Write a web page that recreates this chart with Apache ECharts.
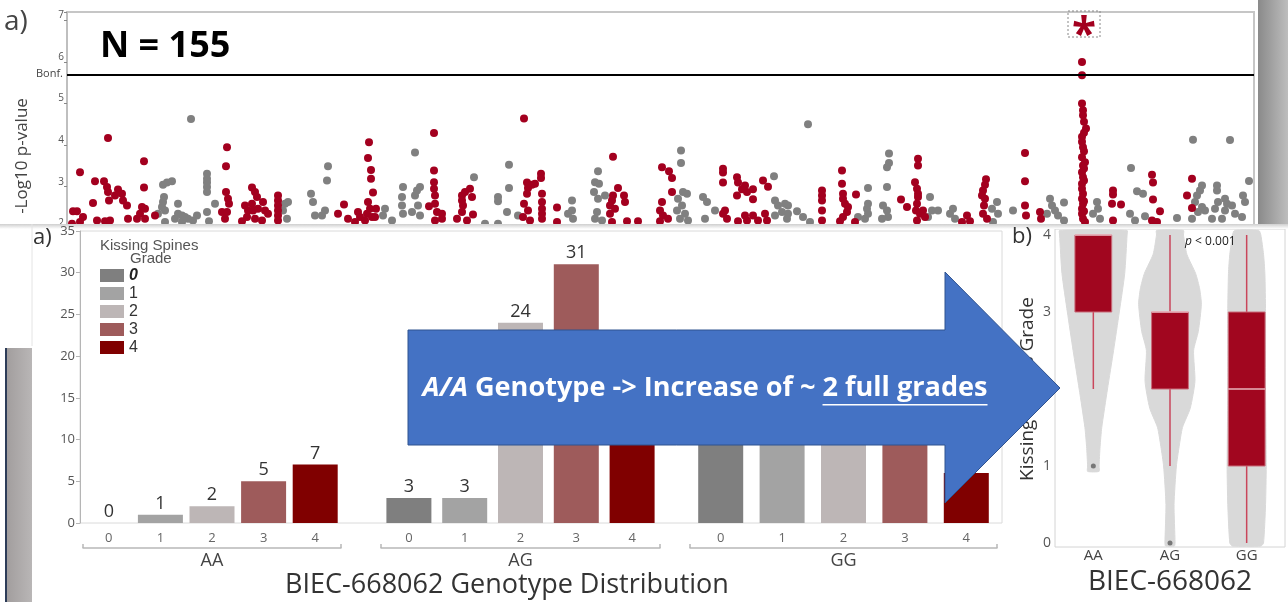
<!DOCTYPE html>
<html>
<head>
<meta charset="utf-8">
<script src="https://cdn.jsdelivr.net/npm/echarts@6/dist/echarts.min.js"></script>
<style>
  html, body { margin: 0; padding: 0; background: #fff; }
  #wrap { position: relative; width: 1288px; height: 602px; overflow: hidden; }
  #clip { position: absolute; left: 0; top: 0; width: 1288px; height: 224px; overflow: hidden; }
  #manhattan { position: absolute; left: 0; top: 0; width: 1288px; height: 330px; }
  #lower { position: absolute; left: 0; top: 224px; width: 1288px; height: 378px; }
</style>
</head>
<body>
<div id="wrap">
  <div id="clip"><div id="manhattan"></div></div>
  <div id="lower"></div>
</div>
<script>
'use strict';

// Manhattan plot: [cumulative position (Mb), -log10 p], alternating chromosome colours
var redSnps = [
  [26,3.35],[82,4.17],[154,3.61],[154,2.98],[56,3.13],[74,3.13],[80,2.99],[82,2.87],[102,2.93],[110,2.83],[96,2.79],[112,2.67],[120,2.55],[84,2.67],[52,2.61],[12,2.41],[20,2.41],[32,2.27],[10,2.11],[26,2.15],[60,2.19],[76,2.17],[86,2.19],[122,2.23],[140,2.23],[150,2.51],[156,2.47],[146,2.35],[156,2.23],[176,2.31],
  [320,3.95],[318,3.49],[318,2.87],[322,2.71],[324,2.59],[310,2.39],[320,2.39],[316,2.23],
  [370,2.98],[376,2.87],[380,2.75],[370,2.59],[356,2.55],[362,2.43],[372,2.43],[382,2.47],[392,2.63],[396,2.43],[402,2.35],[360,2.27],[376,2.23],[390,2.19],[350,2.17],
  [422,2.79],[422,2.67],[422,2.55],[422,2.43],[422,2.31],[422,2.19],
  [604,4.07],[602,3.69],[608,3.40],[608,3.19],[612,2.86],[602,2.63],[606,2.47],[600,2.35],[610,2.27],[618,2.47],[616,2.27],[554,2.57],[542,2.35],[562,2.23],[582,2.39],[586,2.27],[596,2.19],[576,2.15],
  [734,4.29],[734,3.39],[734,3.11],[734,2.95],[736,2.79],[724,2.53],[736,2.59],[740,2.39],[750,2.35],[750,2.23],[736,2.19],
  [790,2.79],[796,2.87],[806,2.95],[810,2.75],[790,2.67],[792,2.55],[790,2.39],[812,2.33],[780,2.23],[800,2.19],
  [914,4.64],[948,3.31],[948,3.21],[920,3.10],[930,3.05],[922,2.97],[936,3.07],[920,2.83],[950,2.83],[950,2.63],[914,2.59],[950,2.47],[922,2.43],[950,2.35],[912,2.27],[950,2.23],[926,2.19],
  [980,2.50],[980,2.15],
  [1092,3.72],[1102,2.97],[1092,2.79],[1090,2.67],[1086,2.55],[1096,2.47],[1114,2.79],[1116,2.63],[1086,2.35],[1090,2.15],[1120,2.17],[1142,2.17],
  [1190,3.47],[1204,3.37],[1210,3.21],[1210,2.87],[1190,2.63],[1186,2.43],[1192,2.31],[1202,2.23],[1186,2.17],
  [1312,3.43],[1312,3.34],[1312,3.10],[1340,3.23],[1342,3.10],[1350,2.94],[1356,3.03],[1360,2.87],[1340,2.79],[1372,2.94],[1372,2.70],[1392,3.15],[1402,3.00],[1316,2.43],[1312,2.35],[1320,2.23],[1342,2.17],[1356,2.31],[1360,2.19],[1372,2.31],[1382,2.19],[1396,2.35],[1400,2.19],
  [1510,2.91],[1510,2.79],[1510,2.67],[1510,2.43],[1510,2.19],
  [1550,3.39],[1550,3.07],[1552,2.83],[1552,2.71],[1556,2.59],[1562,2.51],[1560,2.39],[1552,2.27],[1546,2.17],[1578,2.81],[1576,2.15],
  [1702,3.67],[1702,3.51],[1696,3.11],[1700,2.95],[1702,2.83],[1702,2.75],[1700,2.59],[1698,2.43],[1706,2.35],[1712,2.43],[1716,2.27],[1700,2.19],[1668,2.69],[1680,2.51],
  [1800,2.31],[1790,2.15],[1806,2.17],
  [1838,3.18],[1836,3.05],[1832,2.91],[1830,2.79],[1836,2.71],[1834,2.55],[1832,2.35],[1840,2.23],
  [1916,3.81],[1916,3.13],[1916,2.55],[1918,2.31],[1946,2.39],[1948,2.23],
  [2030,6.00],[2030,5.68],[2030,5.00],[2032,4.84],[2032,4.72],[2034,4.56],[2038,4.40],[2034,4.30],[2030,4.20],[2030,4.08],[2032,3.95],[2034,3.85],[2030,3.71],[2036,3.59],[2032,3.51],[2034,3.44],[2030,3.35],[2032,3.23],[2034,3.15],[2030,3.07],[2030,2.95],[2032,2.83],[2030,2.71],[2034,2.65],[2032,2.59],[2030,2.47],[2034,2.41],[2030,2.35],[2032,2.23],[2036,2.15],
  [2092,2.91],[2092,2.81],[2090,2.59],[2108,2.57],[2092,2.19],
  [2170,3.29],[2172,3.10],[2172,2.69],[2186,2.41],[2170,2.19],[2180,2.15],
  [2250,3.19],[2240,2.79],[2250,2.49]
];
var greySnps = [
  [248,4.63],[192,3.05],[200,3.10],[210,3.13],[194,2.75],[192,2.63],[190,2.51],[196,2.43],[182,2.35],[222,2.59],
  [280,3.31],[280,3.19],[280,3.10],[280,2.99],[280,2.87],[296,2.59],[280,2.39],[222,2.35],[230,2.31],[236,2.27],[242,2.23],[216,2.23],[260,2.31],[252,2.19],[196,2.15],[230,2.15],[284,2.17],
  [436,2.59],[442,2.63],[432,2.43],[440,2.23],
  [488,2.83],[492,2.63],[496,2.31],[522,3.49],[520,3.15],[516,2.43],[510,2.31],
  [636,2.47],[632,2.31],[650,2.19],[672,2.99],[670,2.75],[670,2.55],[672,2.35],[696,3.82],[700,2.91],[706,2.99],[696,2.79],[702,2.55],[690,2.39],[706,2.31],
  [814,3.23],[862,2.75],[862,2.65],[880,2.39],[884,3.53],[884,2.97],[902,2.31],[836,2.11],[862,2.11],
  [1010,2.67],[1010,2.43],[1002,2.35],[1012,2.23],
  [1062,3.37],[1056,3.11],[1064,3.07],[1054,2.87],[1062,2.71],[1076,2.79],[1060,2.39],[1056,2.23],[1070,2.19],
  [1228,3.87],[1228,3.57],[1232,2.87],[1240,2.83],[1222,2.71],[1230,2.55],[1220,2.43],[1236,2.35],[1226,2.23],[1242,2.19],
  [1272,2.75],[1280,2.63],[1296,2.43],[1276,2.23],
  [1414,3.25],[1416,2.67],[1422,2.55],[1436,2.59],[1430,2.39],[1416,2.31],[1440,2.23],
  [1482,4.50],[1442,2.55],[1442,2.35],[1460,2.41],[1472,2.27],[1486,2.15],
  [1602,2.97],[1602,2.59],[1600,2.47],[1602,2.35],[1596,2.23],[1582,2.27],
  [1644,3.80],[1644,3.57],[1640,3.47],[1640,2.99],[1632,2.55],[1640,2.43],[1642,2.27],[1630,2.23],
  [1726,2.75],[1730,2.43],[1742,2.43],[1722,2.27],[1766,2.35],[1772,2.47],[1776,2.23],
  [1860,2.63],[1850,2.47],[1862,2.35],[1892,2.43],[1852,2.15],
  [1966,2.71],[1970,2.55],[1976,2.43],[1960,2.35],[1982,2.31],[1994,2.62],[1994,2.19],
  [2060,2.63],[2062,2.47],[2052,2.35],[2066,2.23],
  [2128,3.45],[2140,2.89],[2152,2.83],[2126,2.35],[2136,2.19],[2156,2.29],[2220,2.25],
  [2252,4.13],[2326,4.12],[2270,3.03],[2266,2.91],[2260,2.79],[2256,2.63],[2270,2.51],[2262,2.39],[2276,2.43],[2250,2.23],
  [2300,3.03],[2300,2.91],[2302,2.63],[2296,2.47],[2290,2.23],[2316,2.71],[2320,2.59],[2316,2.43],[2330,2.55],[2336,2.35],[2310,2.23],
  [2352,2.79],[2356,2.63],[2364,3.14],[2350,2.27]
];
var bonferroni = 5.7;
var genomeLength = 2374;

// genotype distribution (horses per kissing spines grade)
var genotypes = ['AA', 'AG', 'GG'];
var grades = ['0', '1', '2', '3', '4'];
var countsAA = [0, 1, 2, 5, 7];
var countsAG = [3, 3, 24, 31, 19];
var countsGG = [12, 14, 15, 13, 6];

// box plot per genotype: [low whisker, Q1, median, Q3, high whisker]
var boxAA = [2, 3, 4, 4, 4];
var boxAG = [1, 2, 3, 3, 4];
var boxGG = [0, 1, 2, 3, 4];
var outliers = [['AA', 1], ['AG', 0]];

// violin outlines: [grade, relative density]
var violinAA = [[0.93,0.17],[1,0.17],[1.25,0.2],[1.5,0.25],[2,0.42],[2.5,0.6],[3,0.77],[3.5,0.93],[4,1],[4.06,1]];
var violinAG = [[-0.04,0.13],[0,0.15],[0.5,0.12],[1,0.19],[1.25,0.27],[1.5,0.37],[1.75,0.6],[2.1,0.74],[2.5,0.7],[2.75,0.84],[3.1,0.93],[3.3,0.88],[3.5,0.76],[3.75,0.5],[4,0.4],[4.06,0.4]];
var violinGG = [[-0.04,0.42],[0,0.5],[0.5,0.56],[1,0.58],[2,0.56],[3,0.56],[3.5,0.54],[3.75,0.5],[4,0.42],[4.06,0.36]];

var FONT = '"Open Sans", "Noto Sans", sans-serif';
var ARIAL = '"Liberation Sans", Arial, sans-serif';
var gradeColors = ['#7f7f7f', '#a3a3a3', '#bdb6b6', '#9e5b5b', '#800000'];
var snpRed = '#a3001f';

function txt(x, y, text, font, fill, align, vAlign, extra) {
  var el = {
    type: 'text', x: x, y: y, z: 50,
    style: {
      text: text, font: font, fill: fill,
      align: align || 'left', verticalAlign: vAlign || 'middle',
      textAlign: align || 'left', textVerticalAlign: vAlign || 'middle'
    }
  };
  if (extra) Object.assign(el.style, extra);
  return el;
}

// ---------- top: Manhattan plot (lower part hidden under the second slide) ----------
var topChart = echarts.init(document.getElementById('manhattan'));
topChart.setOption({
  animation: false,
  textStyle: {fontFamily: FONT},
  grid: {left: 67, top: 12, width: 1187, height: 299.5, show: true, borderColor: '#c6c6c6', borderWidth: 2},
  xAxis: {type: 'value', min: 0, max: genomeLength, show: false},
  yAxis: {
    type: 'value', min: 0, max: 7.2, interval: 1,
    splitLine: {show: false},
    axisLine: {show: true, lineStyle: {color: '#bdbdbd', width: 1.5}},
    axisTick: {show: true, length: 3, lineStyle: {color: '#888'}},
    axisLabel: {
      fontSize: 10, color: '#555', margin: 3, verticalAlign: 'bottom',
      formatter: function (v) { return v % 1 === 0 ? String(v) : ''; }
    }
  },
  series: [
    {type: 'scatter', data: greySnps, symbolSize: 8, itemStyle: {color: '#808080', opacity: 1}, silent: true},
    {
      type: 'scatter', data: redSnps, symbolSize: 8, itemStyle: {color: snpRed, opacity: 1}, silent: true,
      markLine: {
        silent: true, symbol: 'none', label: {show: false},
        lineStyle: {color: '#000', width: 2, type: 'solid'},
        data: [{yAxis: bonferroni}]
      }
    }
  ],
  graphic: [
    txt(4, 22, 'a)', '28px ' + FONT, '#444'),
    txt(100, 47, 'N = 155', 'bold 36px ' + FONT, '#000'),
    txt(63, 74, 'Bonf.', '11px ' + FONT, '#444', 'right'),
    {type: 'text', z: 50, x: 22, y: 156, rotation: Math.PI / 2,
      style: {text: '-Log10 p-value', font: '17px ' + FONT, fill: '#444',
        align: 'center', verticalAlign: 'middle', textAlign: 'center', textVerticalAlign: 'middle'}},
    txt(1084, 58, '*', 'bold 44px ' + FONT, snpRed, 'center', 'bottom'),
    {type: 'rect', z: 50, shape: {x: 1068, y: 11, width: 32, height: 26},
      style: {fill: 'none', stroke: '#888', lineWidth: 1, lineDash: [2, 2]}},
    {type: 'rect', z: 50, shape: {x: 1258, y: 0, width: 30, height: 330},
      style: {fill: {type: 'linear', x: 0, y: 0, x2: 1, y2: 0,
        colorStops: [{offset: 0, color: '#8a8a8a'}, {offset: 1, color: '#bdbdbd'}]}}}
  ]
});

// ---------- bottom: genotype distribution + violin ----------
var lower = echarts.init(document.getElementById('lower'));
var counts = [countsAA, countsAG, countsGG];
var boxes = [boxAA, boxAG, boxGG];
var violins = [violinAA, violinAG, violinGG];
var groupBoxes = [{left: 83, width: 258}, {left: 381, width: 279}, {left: 690, width: 307}];
var barTop = 7, barHeight = 292;

var grids = [{left: 80, top: barTop, width: 922, height: barHeight, show: true, borderColor: '#dadada', borderWidth: 1}];
groupBoxes.forEach(function (b) {
  grids.push({left: b.left, top: barTop, width: b.width, height: barHeight});
});
grids.push({left: 1055, top: 5, width: 230, height: 318, show: true, borderColor: '#d4d4d4', borderWidth: 1});
grids.push({left: 1055, top: 11, width: 230, height: 308});

var xAxes = [{gridIndex: 0, type: 'category', data: ['x'], show: false}];
var yAxes = [{
  gridIndex: 0, type: 'value', min: 0, max: 35, interval: 5,
  splitLine: {show: false},
  axisLine: {show: true, lineStyle: {color: '#b5b5b5'}},
  axisTick: {show: true, length: 4, lineStyle: {color: '#b5b5b5'}},
  axisLabel: {fontSize: 13, color: '#555', margin: 5}
}];
var series = [];

genotypes.forEach(function (g, gi) {
  xAxes.push({
    gridIndex: gi + 1, type: 'category', data: grades,
    axisLine: {show: false}, axisTick: {show: false},
    axisLabel: {fontSize: 13, color: '#666', margin: 9}
  });
  xAxes.push({
    gridIndex: gi + 1, type: 'category', data: [g], position: 'bottom', offset: 25,
    axisLine: {show: true, lineStyle: {color: '#b8b8b8', width: 1.5}},
    axisTick: {show: true, inside: true, length: 4, lineStyle: {color: '#b8b8b8', width: 1.5}},
    axisLabel: {fontSize: 18, color: '#444', margin: 4}
  });
  yAxes.push({gridIndex: gi + 1, type: 'value', min: 0, max: 35, show: false});
  grades.forEach(function (k, ki) {
    series.push({
      type: 'bar', name: k, xAxisIndex: 1 + 2 * gi, yAxisIndex: 1 + gi,
      barWidth: 45, barGap: '-100%', silent: true,
      itemStyle: {color: gradeColors[ki]},
      label: {show: true, position: 'top', distance: 2, fontSize: 18, color: '#333'},
      data: counts[gi].map(function (v, i) { return i === ki ? v : null; })
    });
  });
});

// violin frame + violin axes
xAxes.push({gridIndex: 4, type: 'value', show: false});
yAxes.push({gridIndex: 4, type: 'value', show: false});
xAxes.push({
  gridIndex: 5, type: 'category', data: genotypes,
  axisLine: {show: false}, axisTick: {show: false},
  axisLabel: {fontSize: 15, color: '#444', margin: 5},
  name: 'BIEC-668062', nameLocation: 'middle', nameGap: 23,
  nameTextStyle: {fontSize: 28, color: '#333'}
});
yAxes.push({
  gridIndex: 5, type: 'value', min: 0, max: 4, interval: 1,
  splitLine: {show: false}, axisLine: {show: false}, axisTick: {show: false},
  axisLabel: {fontSize: 14, color: '#555', margin: 4},
  name: 'Kissing Spines Grade', nameLocation: 'middle', nameGap: 18,
  nameTextStyle: {fontSize: 19, color: '#333'}
});
var vx = xAxes.length - 1, vy = yAxes.length - 1;

series.push({
  type: 'custom', xAxisIndex: vx, yAxisIndex: vy, silent: true, z: 1,
  data: genotypes.map(function (g, i) { return [i, 0]; }),
  encode: {x: 0, y: 1},
  renderItem: function (params, api) {
    var idx = api.value(0);
    var prof = violins[params.dataIndex];
    var cx = api.coord([idx, 0])[0];
    var half = api.size([1, 0])[0] * 0.44;
    var right = prof.map(function (p) { return [cx + p[1] * half, api.coord([idx, p[0]])[1]]; });
    var left = prof.slice().reverse().map(function (p) { return [cx - p[1] * half, api.coord([idx, p[0]])[1]]; });
    return {type: 'polygon', shape: {points: right.concat(left), smooth: 0.2},
      style: {fill: '#d9d9d9', stroke: '#d9d9d9', lineWidth: 1}};
  }
});
series.push({
  type: 'custom', xAxisIndex: vx, yAxisIndex: vy, silent: true, z: 3,
  data: boxes.map(function (b, i) { return [i].concat(b); }),
  encode: {x: 0, y: [1, 2, 3, 4, 5]},
  renderItem: function (params, api) {
    var idx = api.value(0);
    var cx = api.coord([idx, 0])[0];
    var half = api.size([1, 0])[0] * 0.24;
    function y(d) { return api.coord([idx, api.value(d)])[1]; }
    var lo = y(1), q1 = y(2), med = y(3), q3 = y(4), hi = y(5);
    return {type: 'group', children: [
      {type: 'line', shape: {x1: cx, y1: lo, x2: cx, y2: hi}, style: {stroke: '#c9465b', lineWidth: 1.5}},
      {type: 'rect', shape: {x: cx - half, y: q3, width: 2 * half, height: q1 - q3},
        style: {fill: '#a1061f', stroke: '#c96c7a', lineWidth: 1}},
      {type: 'line', shape: {x1: cx - half, y1: med, x2: cx + half, y2: med}, style: {stroke: '#e8b4bc', lineWidth: 1.5}}
    ]};
  }
});
series.push({
  type: 'scatter', xAxisIndex: vx, yAxisIndex: vy, silent: true, z: 4,
  data: outliers, symbolSize: 5, itemStyle: {color: '#777', opacity: 1}
});

// arrow text sized to the arrow body
function measure(str, font) {
  var ctx = document.createElement('canvas').getContext('2d');
  ctx.font = font;
  return ctx.measureText(str).width;
}
var partA = 'A/A', partB = ' Genotype -> Increase of ~ ', partC = '2 full grades';
var w0 = measure(partA, 'italic bold 22px ' + FONT) + measure(partB + partC, 'bold 22px ' + FONT);
var fs = Math.round(22 * 566 / w0 * 10) / 10;
var fA = 'italic bold ' + fs + 'px ' + FONT, fB = 'bold ' + fs + 'px ' + FONT;
var wA = measure(partA, fA), wB = measure(partB, fB), wC = measure(partC, fB);
var tx = 705 - (wA + wB + wC) / 2, ty = 164;

var arrow = [
  {type: 'polygon', z: 100,
    shape: {points: [[408, 106], [945, 106], [945, 48], [1060, 164], [945, 279], [945, 221], [408, 221]]},
    style: {fill: '#4472c4', stroke: '#2f528f', lineWidth: 1}},
  txt(tx, ty, partA, fA, '#fff', 'left', 'middle'),
  txt(tx + wA, ty, partB, fB, '#fff', 'left', 'middle'),
  txt(tx + wA + wB, ty, partC, fB, '#fff', 'left', 'middle'),
  {type: 'line', z: 101, shape: {x1: tx + wA + wB, y1: ty + fs * 0.62, x2: tx + wA + wB + wC, y2: ty + fs * 0.62},
    style: {stroke: '#fff', lineWidth: 1.5}}
];
arrow.slice(1, 4).forEach(function (e) { e.z = 101; });

lower.setOption({
  animation: false,
  textStyle: {fontFamily: FONT},
  grid: grids,
  xAxis: xAxes,
  yAxis: yAxes,
  legend: {
    data: grades, orient: 'vertical', left: 100, top: 43, padding: 0,
    itemWidth: 24, itemHeight: 13, itemGap: 1, icon: 'rect', selectedMode: false,
    textStyle: {fontSize: 16, color: '#333', fontFamily: ARIAL, lineHeight: 17,
      rich: {b: {fontWeight: 'bold', fontStyle: 'italic', fontSize: 16, lineHeight: 17, fontFamily: ARIAL, color: '#222'}}},
    formatter: function (n) { return n === '0' ? '{b|0}' : n; }
  },
  series: series,
  graphic: [
    {type: 'rect', z: 0, shape: {x: 0, y: 0, width: 1288, height: 5},
      style: {fill: {type: 'linear', x: 0, y: 0, x2: 0, y2: 1,
        colorStops: [{offset: 0, color: '#cfcfcf'}, {offset: 1, color: '#ffffff'}]}}},
    {type: 'line', z: 0, shape: {x1: 32, y1: 0, x2: 32, y2: 122}, style: {stroke: '#e4e4e4', lineWidth: 1}},
    {type: 'rect', z: 0, shape: {x: 6, y: 124, width: 26, height: 254},
      style: {fill: {type: 'linear', x: 0, y: 0, x2: 1, y2: 0,
        colorStops: [{offset: 0, color: '#a19d9d'}, {offset: 1, color: '#b9b6b6'}]}}},
    {type: 'line', z: 1, shape: {x1: 6, y1: 124, x2: 6, y2: 378}, style: {stroke: '#2d3c58', lineWidth: 2}},
    txt(33, 14, 'a)', '22px ' + FONT, '#333'),
    txt(100, 22, 'Kissing Spines', '15px ' + ARIAL, '#555'),
    txt(130, 35, 'Grade', '15px ' + ARIAL, '#555'),
    txt(507, 361, 'BIEC-668062 Genotype Distribution', '27px ' + FONT, '#333', 'center'),
    txt(1012, 13, 'b)', '22px ' + FONT, '#333'),
    txt(1185, 18, '{i|p} < 0.001', '12px ' + FONT, '#222', 'left', 'middle',
      {rich: {i: {fontStyle: 'italic', fontSize: 12, fontFamily: FONT, fill: '#222'}}})
  ].concat(arrow)
});
</script>
</body>
</html>
